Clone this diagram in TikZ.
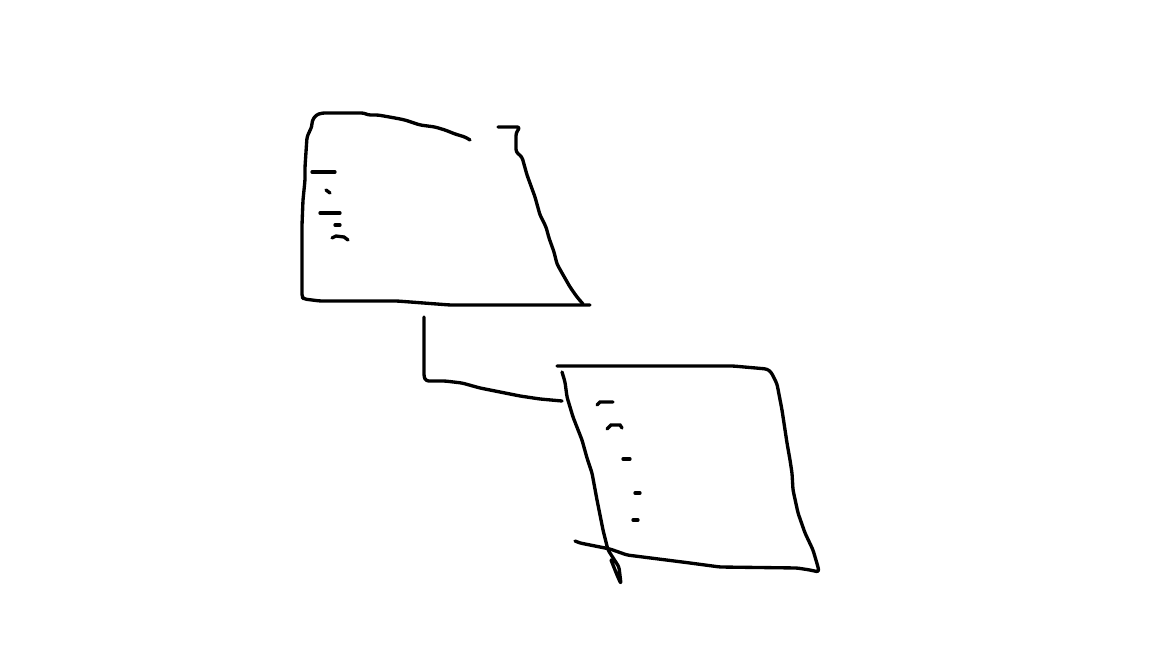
\documentclass[tikz,border=0pt]{standalone}
\usetikzlibrary{positioning}

\tikzset{
  pen/.style={line width=1.9pt, line cap=round, line join=round, rounded corners=1.5pt},
  tick/.style={line width=1.9pt, line cap=round}
}

\begin{document}
\begin{tikzpicture}[x=0.02cm, y=-0.02cm]

         \useasboundingbox (0,0) rectangle (1152,648);

         % upper box
         \draw [pen] (470,140) -- (465,137) -- (455,134) -- (445,130) -- (435,127) -- (420,125) -- (405,120) -- (395,118) -- (378,115) -- (368,115) -- (364,113) -- (322,113) -- (316,115) -- (312,121) -- (312,126) -- (307,137) -- (305,167) -- (305,180) -- (303,200) -- (302,225) -- (302,297) -- (304,299) -- (320,301) -- (397,301) -- (450,305) -- (590,305);
         \draw [pen] (498,127) -- (520,127) -- (516,133) -- (516,152) -- (522,157) -- (527,175) -- (535,197) -- (540,215) -- (546,227) -- (549,238) -- (554,252) -- (557,264) -- (562,273) -- (570,287) -- (577,297) -- (583,304);

         % scribbled lines in upper box
         \draw [tick] (312,172) -- (335,172);
         \draw [tick] (326,190) -- (330,193);
         \draw [tick] (320,213) -- (340,213);
         \draw [tick] (335,225) -- (340,225);
         \draw [tick] (332,238) -- (336,236) -- (344,237) -- (348,240);

         % connector
         \draw [pen] (424,317) -- (424,377) -- (426,381) -- (445,381) -- (462,383) -- (480,388) -- (500,392) -- (520,396) -- (540,399) -- (562,401);

         % lower box
         \draw [pen] (557,366) -- (733,366) -- (767,369) -- (771,372) -- (777,384) -- (782,410) -- (787,443) -- (790,460) -- (792,473) -- (793,490) -- (798,513) -- (805,533) -- (813,550) -- (818,567) -- (819,572) -- (810,570) -- (797,568) -- (720,567) -- (690,563) -- (627,555) -- (610,549) -- (600,547) -- (580,543) -- (575,541);
         \draw [pen] (562,372) -- (565,382) -- (567,397) -- (573,417) -- (582,440) -- (587,458) -- (592,473) -- (597,500) -- (603,530) -- (608,550) -- (619,567) -- (621,584) -- (617,575) -- (611,560);

         % scribbled lines in lower box
         \draw [tick] (597,405) -- (600,402) -- (613,402);
         \draw [tick] (607,429) -- (611,425) -- (620,425) -- (622,428);
         \draw [tick] (623,459) -- (630,459);
         \draw [tick] (635,493) -- (640,493);
         \draw [tick] (633,520) -- (638,520);

\end{tikzpicture}
\end{document}
